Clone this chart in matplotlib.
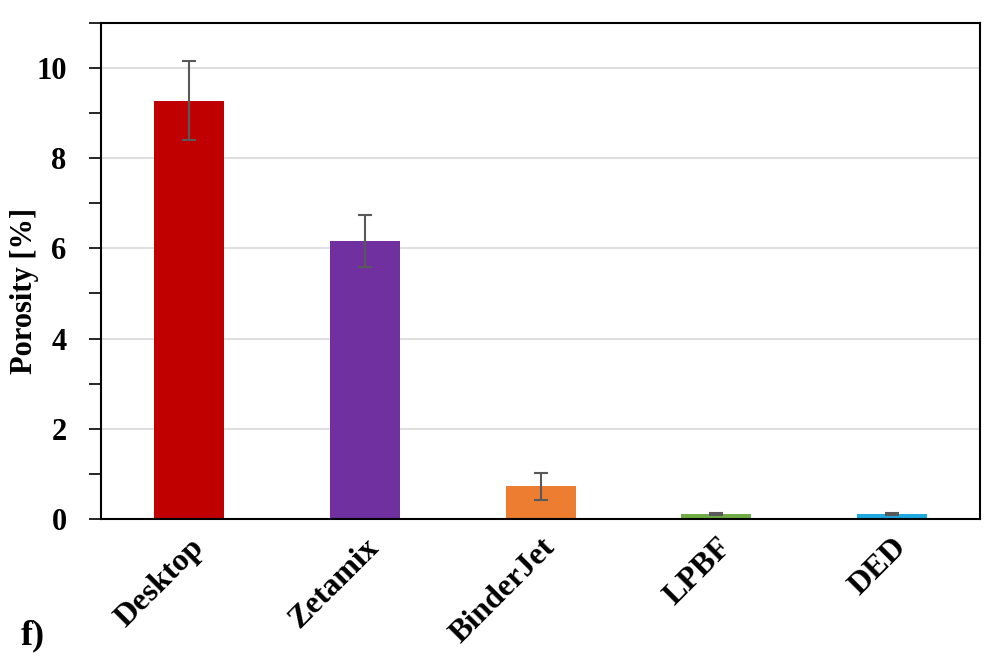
import numpy as np
import matplotlib.pyplot as plt
from matplotlib.ticker import MultipleLocator

plt.rcParams['font.family'] = ['Liberation Serif', 'DejaVu Serif']
plt.rcParams['font.weight'] = 'bold'

processes = ['Desktop', 'Zetamix', 'BinderJet', 'LPBF', 'DED']
porosity = [9.27, 6.16, 0.73, 0.11, 0.11]
porosity_err = [0.88, 0.57, 0.30, 0.02, 0.02]
colors = ['#c00000', '#7030a0', '#ed7d31', '#70ad47', '#1fa9e1']

fig = plt.figure(figsize=(10.04, 6.68), dpi=100)
ax = fig.add_axes([0.101, 0.223, 0.875, 0.743])

x = np.arange(len(processes))
ax.bar(x, porosity, width=0.4, color=colors, zorder=2)
ax.errorbar(x, porosity, yerr=porosity_err, fmt='none', ecolor='#595959',
            elinewidth=1.5, capsize=5, capthick=1.5, zorder=3)

ax.set_xlim(-0.5, 4.5)
ax.set_ylim(0, 11)
ax.yaxis.set_major_locator(MultipleLocator(2))
ax.yaxis.set_minor_locator(MultipleLocator(1))
ax.grid(axis='y', which='major', color='#d9d9d9', linewidth=1.2, zorder=0)
ax.set_axisbelow(True)

for s in ax.spines.values():
    s.set_linewidth(1.5)
    s.set_color('black')

ax.tick_params(axis='y', which='major', direction='out', length=9, width=1.2,
               labelsize=22, pad=16)
ax.tick_params(axis='y', which='minor', direction='out', length=9, width=1.2)
ax.tick_params(axis='x', length=0, pad=10)
ax.set_xticks(x)
ax.set_xticklabels(processes, rotation=45, ha='right', rotation_mode='anchor',
                   fontsize=23, fontweight='bold')
for lbl in ax.get_yticklabels():
    lbl.set_fontweight('bold')

ax.set_ylabel('Porosity [%]', fontsize=22, fontweight='bold')
ax.yaxis.set_label_coords(-0.071, 0.46)

fig.text(0.021, 0.035, 'f)', fontsize=26, fontweight='bold')

fig.savefig('out.png', dpi=100)
